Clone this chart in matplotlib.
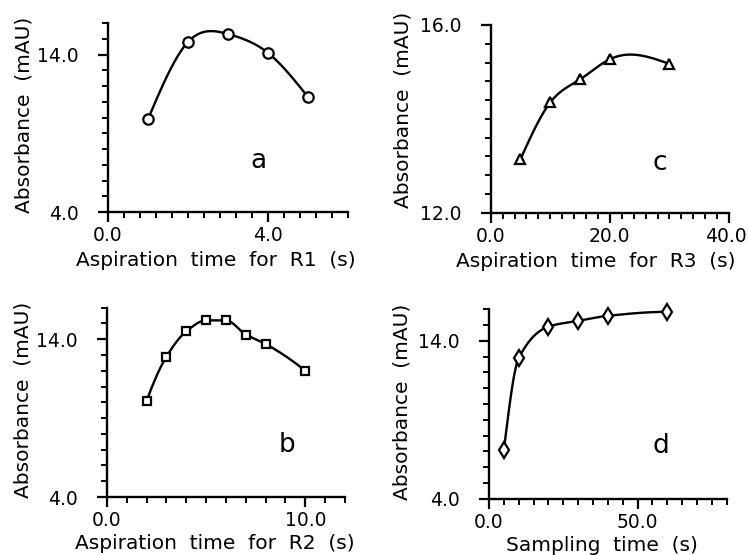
import numpy as np
import matplotlib
matplotlib.use("Agg")
import matplotlib.pyplot as plt
from matplotlib.ticker import MultipleLocator, FixedLocator, FuncFormatter

# ---- data ----
a_x = [1, 2, 3, 4, 5]
a_y = [9.9, 14.8, 15.3, 14.1, 11.3]

b_x = [2, 3, 4, 5, 6, 7, 8, 10]
b_y = [10.1, 12.9, 14.5, 15.2, 15.2, 14.3, 13.7, 12.0]

c_x = [5, 10, 15, 20, 30]
c_y = [13.14, 14.35, 14.84, 15.27, 15.17]

d_x = [5, 10, 20, 30, 40, 60]
d_y = [7.1, 12.9, 14.9, 15.27, 15.59, 15.84]

x_labels = ["Aspiration  time  for  R1  (s)", "Aspiration  time  for  R2  (s)",
            "Aspiration  time  for  R3  (s)", "Sampling  time  (s)"]
y_label = "Absorbance  (mAU)"
panel_letters = ["a", "b", "c", "d"]


def natural_spline(x, y, n=200):
    x = np.asarray(x, float); y = np.asarray(y, float)
    k = len(x); h = np.diff(x)
    A = np.zeros((k, k)); r = np.zeros(k)
    A[0, 0] = A[-1, -1] = 1
    for i in range(1, k - 1):
        A[i, i - 1] = h[i - 1]; A[i, i] = 2 * (h[i - 1] + h[i]); A[i, i + 1] = h[i]
        r[i] = 6 * ((y[i + 1] - y[i]) / h[i] - (y[i] - y[i - 1]) / h[i - 1])
    M = np.linalg.solve(A, r)
    xs = np.linspace(x[0], x[-1], n)
    idx = np.clip(np.searchsorted(x, xs) - 1, 0, k - 2)
    xi, xi1, hi = x[idx], x[idx + 1], h[idx]
    ys = (M[idx] * (xi1 - xs) ** 3 / (6 * hi) + M[idx + 1] * (xs - xi) ** 3 / (6 * hi)
          + (y[idx] / hi - M[idx] * hi / 6) * (xi1 - xs)
          + (y[idx + 1] / hi - M[idx + 1] * hi / 6) * (xs - xi))
    return xs, ys


def pchip(x, y, n=200):
    x = np.asarray(x, float); y = np.asarray(y, float)
    h = np.diff(x); dl = np.diff(y) / h
    k = len(x); d = np.zeros(k)
    for i in range(1, k - 1):
        if dl[i - 1] * dl[i] > 0:
            w1 = 2 * h[i] + h[i - 1]; w2 = h[i] + 2 * h[i - 1]
            d[i] = (w1 + w2) / (w1 / dl[i - 1] + w2 / dl[i])
    d[0] = ((2 * h[0] + h[1]) * dl[0] - h[0] * dl[1]) / (h[0] + h[1])
    if np.sign(d[0]) != np.sign(dl[0]):
        d[0] = 0
    d[-1] = ((2 * h[-1] + h[-2]) * dl[-1] - h[-1] * dl[-2]) / (h[-1] + h[-2])
    if np.sign(d[-1]) != np.sign(dl[-1]):
        d[-1] = 0
    xs = np.linspace(x[0], x[-1], n)
    idx = np.clip(np.searchsorted(x, xs) - 1, 0, k - 2)
    t = (xs - x[idx]) / h[idx]
    h00 = 2 * t**3 - 3 * t**2 + 1; h10 = t**3 - 2 * t**2 + t
    h01 = -2 * t**3 + 3 * t**2; h11 = t**3 - t**2
    ys = h00 * y[idx] + h10 * h[idx] * d[idx] + h01 * y[idx + 1] + h11 * h[idx] * d[idx + 1]
    return xs, ys


plt.rcParams['font.family'] = ['DejaVu Sans']
fig = plt.figure(figsize=(7.48, 5.55), dpi=100)

TICK_FS = 13.5
LABEL_FS = 14.5

panels = [
    # data, marker, ms, fit, rect, xlim, xmaj, xmin, ylim, yticks, ymin, xlabel, letter, letter pos, xlabel coords, ylabel coords
    (a_x, a_y, 'o', 7.5, natural_spline, [0.1444, 0.618, 0.3209, 0.3405], (0, 6), 4, 0.4, (4, 16), [4, 14], 1,
     x_labels[0], panel_letters[0], (0.625, 0.27), (0.45, -0.205), (-0.3125, 0.513)),
    (b_x, b_y, 's', 6, pchip, [0.143, 0.1045, 0.3182, 0.3411], (0, 12), 10, 1, (4, 16), [4, 14], 1,
     x_labels[1], panel_letters[1], (0.756, 0.275), (0.454, -0.195), (-0.311, 0.512)),
    (c_x, c_y, '^', 7.5, natural_spline, [0.656, 0.6168, 0.3186, 0.3382], (0, 40), 20, 2, (12, 16), [12, 16], 0.4,
     x_labels[2], panel_letters[2], (0.71, 0.265), (0.44, -0.21), (-0.33, 0.547)),
    (d_x, d_y, 'd', 8.5, pchip, [0.6537, 0.1014, 0.3178, 0.3413], (0, 80), 50, 5, (4, 16), [4, 14], 1,
     x_labels[3], panel_letters[3], (0.724, 0.278), (0.474, -0.195), (-0.324, 0.51)),
]

for i, (xs, ys, mk, ms, fit, rect, xlim, xmaj, xmin, ylim, yt, ymin, xl, letter, lp, xlc, ylc) in enumerate(panels):
    ax = fig.add_axes(rect)
    fx, fy = fit(xs, ys)
    ax.plot(fx, fy, color='black', lw=1.7, zorder=2, clip_on=False)
    ax.plot(xs, ys, linestyle='none', marker=mk, ms=ms, mfc='white', mec='black', mew=1.6, zorder=3, clip_on=False)
    ax.set_xlim(*xlim); ax.set_ylim(*ylim)
    ax.xaxis.set_major_locator(MultipleLocator(xmaj))
    ax.xaxis.set_minor_locator(MultipleLocator(xmin))
    ax.yaxis.set_major_locator(FixedLocator(yt))
    ax.yaxis.set_minor_locator(MultipleLocator(ymin))
    xhi = xlim[1]
    if i == 2:
        # the last label is drawn separately so it stays inside the figure
        ax.xaxis.set_major_formatter(FuncFormatter(lambda v, p, xhi=xhi: '' if abs(v - xhi) < 1e-9 else f'{v:.1f}'))
        ax.annotate(f'{xhi:.1f}', xy=(xhi, 0), xycoords=('data', 'axes fraction'),
                    xytext=(18, -14), textcoords='offset pixels', ha='right', va='top',
                    fontsize=TICK_FS)
    else:
        ax.xaxis.set_major_formatter(FuncFormatter(lambda v, p: f'{v:.1f}'))
    ax.yaxis.set_major_formatter(FuncFormatter(lambda v, p: f'{v:.1f}'))
    for s in ['top', 'right']:
        ax.spines[s].set_visible(False)
    for s in ['left', 'bottom']:
        ax.spines[s].set_linewidth(1.7)
    ax.tick_params(which='major', direction='out', length=7, width=1.6, labelsize=TICK_FS, pad=3)
    ax.tick_params(which='minor', direction='out', length=4.5, width=1.4)
    ax.tick_params(axis='y', which='major', pad=14)
    ax.set_xlabel(xl, fontsize=LABEL_FS)
    ax.set_ylabel(y_label, fontsize=LABEL_FS)
    ax.xaxis.set_label_coords(*xlc)
    ax.yaxis.set_label_coords(*ylc)
    ax.text(lp[0], lp[1], letter, transform=ax.transAxes, fontsize=19, ha='center', va='center')
    ax.patch.set_alpha(0)

fig.savefig('out.png', dpi=100)
